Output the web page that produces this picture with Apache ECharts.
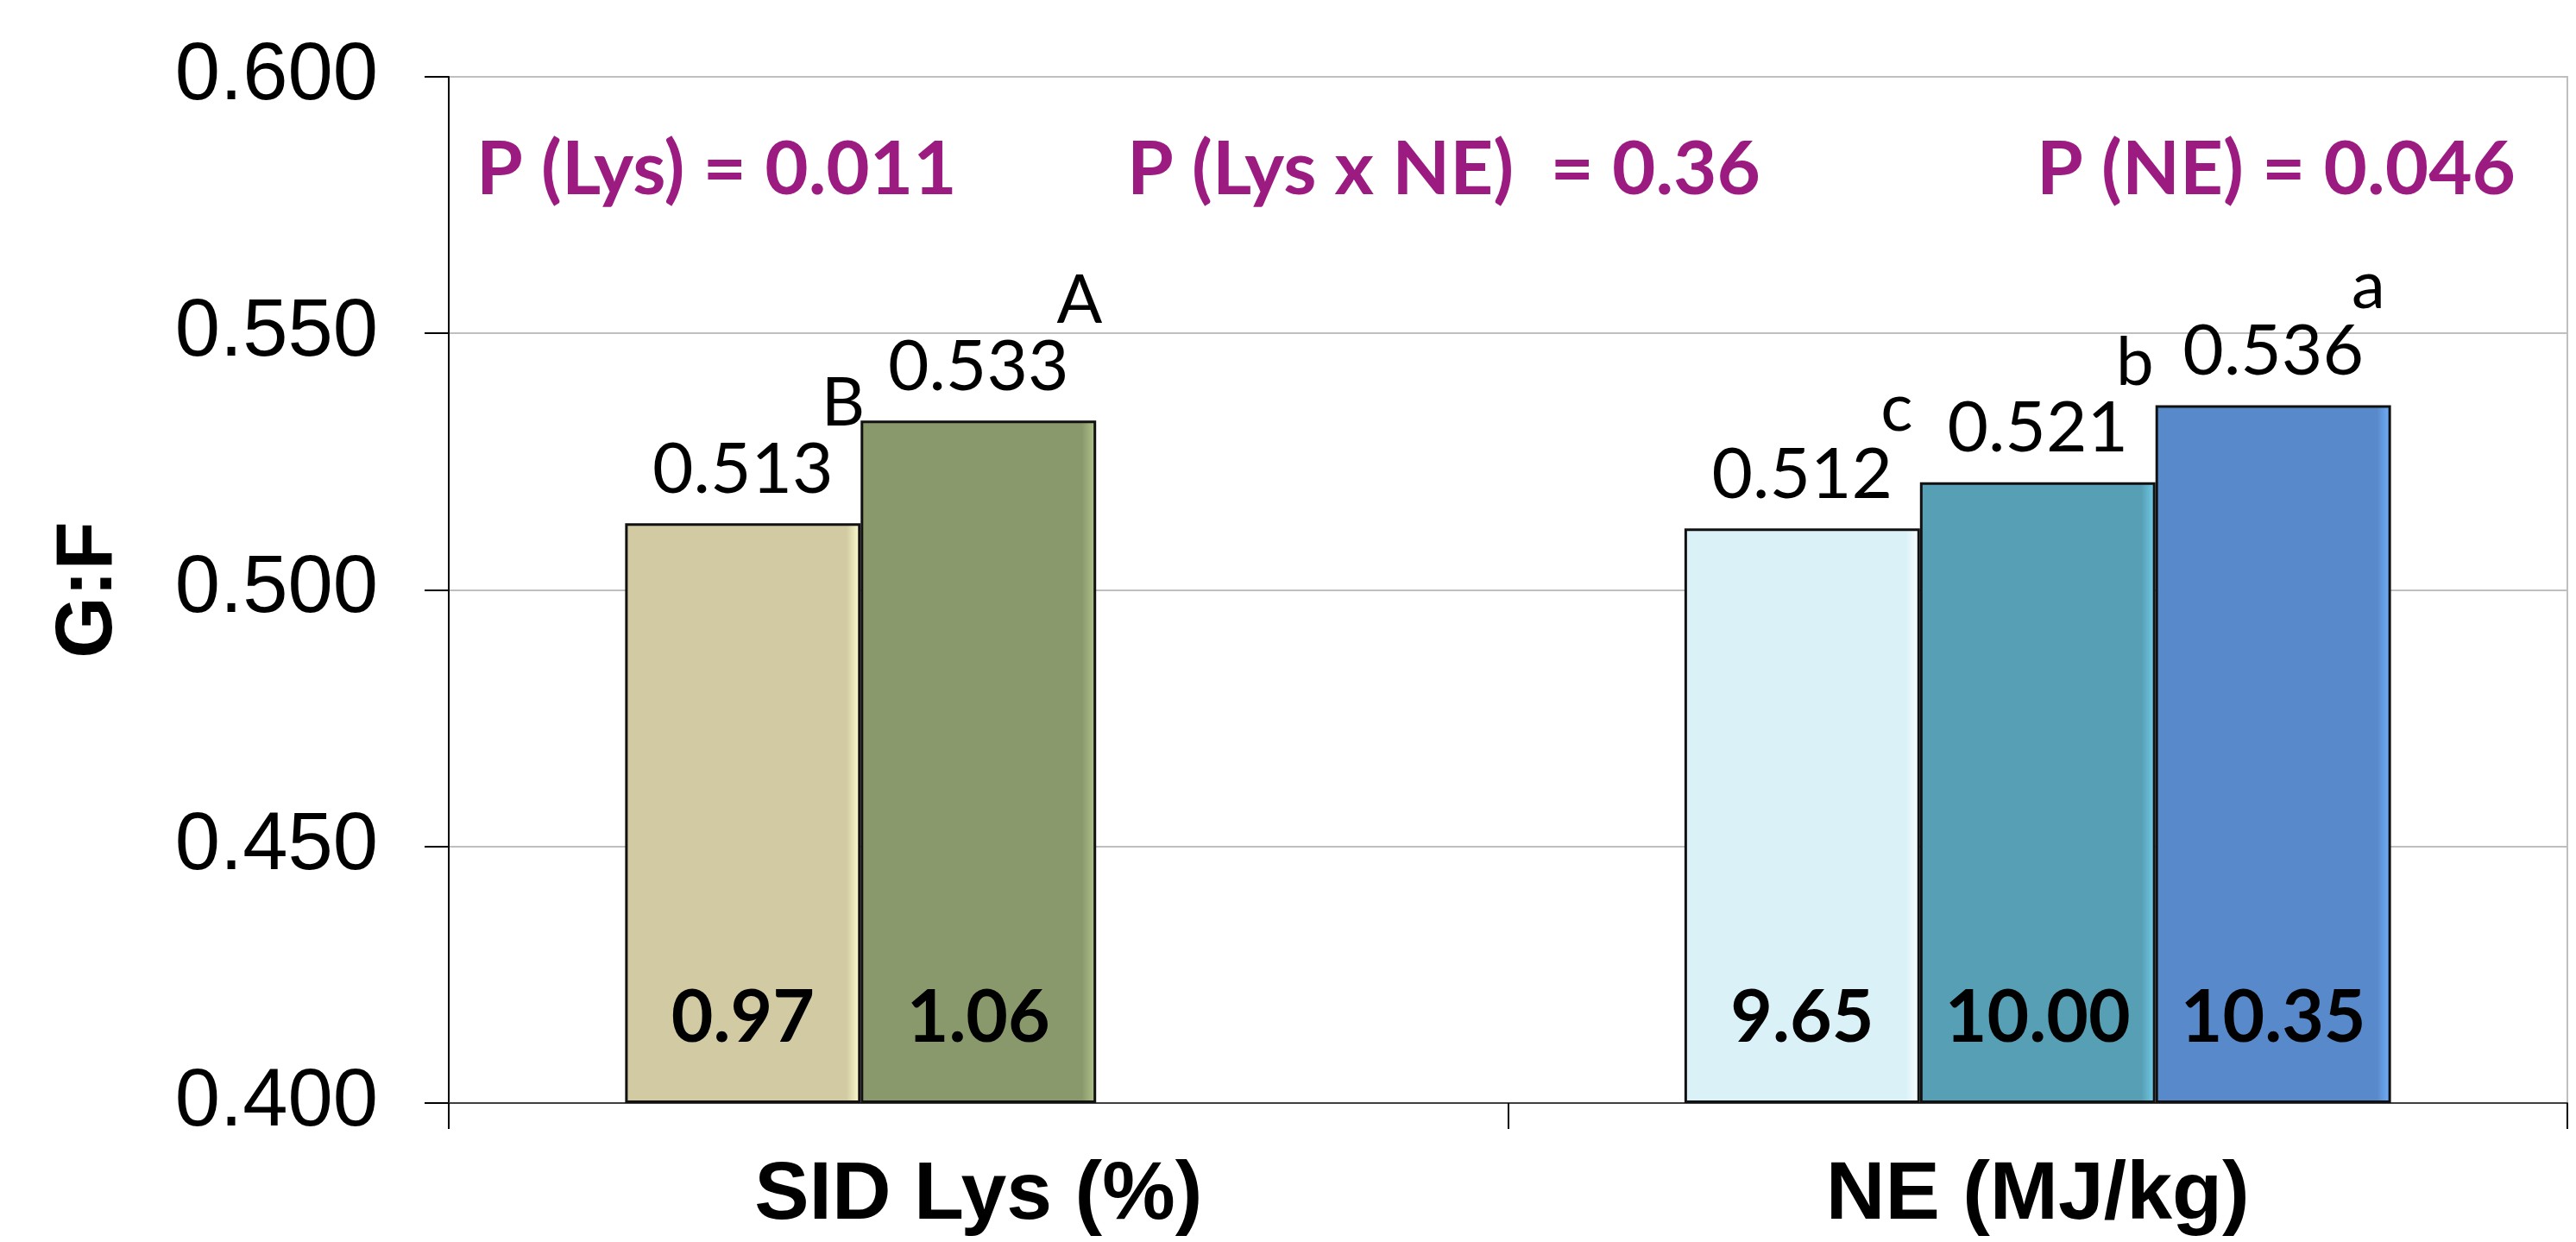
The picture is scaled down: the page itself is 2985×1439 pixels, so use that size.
<!DOCTYPE html>
<html>
<head>
<meta charset="utf-8">
<title>G:F</title>
<script src="https://cdn.jsdelivr.net/npm/echarts@6/dist/echarts.min.js"></script>
<style>
html, body { margin: 0; padding: 0; background: #fff; }
#main { width: 2985px; height: 1439px; }
</style>
</head>
<body>
<div id="main"></div>
<script>
// data
var categories = ['SID Lys (%)', 'NE (MJ/kg)'];
var lysLevels = ['0.97', '1.06'];
var lysGF = [0.513, 0.533];
var lysLetters = ['B', 'A'];
var neLevels = ['9.65', '10.00', '10.35'];
var neGF = [0.512, 0.521, 0.536];
var neLetters = ['c', 'b', 'a'];
var pTexts = ['P (Lys) = 0.011', 'P (Lys x NE)  = 0.36', 'P (NE) = 0.046'];

// styles
var lysColors = ['#D1CAA2', '#8A996C'];
var neColors = ['#DAF1F8', '#579FB5', '#5889CA'];
var pTextX = [552, 1306, 2360];

(function(){

var chart = echarts.init(document.getElementById('main'));

function bevel(c) {
    // flat fill with a darker strip on the right, like the excel bevel
    return new echarts.graphic.LinearGradient(0, 0, 1, 0, [
        {offset: 0, color: c},
        {offset: 0.94, color: c},
        {offset: 1, color: echarts.color.lift(c, -0.3)}
    ]);
}

var groups = [
    {gf: lysGF, level: lysLevels, letter: lysLetters, color: lysColors},
    {gf: neGF, level: neLevels, letter: neLetters, color: neColors}
];

var series = [];
for (var s = 0; s < 3; s++) {
    var bars = [], caps = [];
    groups.forEach(function(g){
        if (s < g.gf.length) {
            bars.push({value: g.gf[s], level: g.level[s], itemStyle: {color: bevel(g.color[s])}});
            caps.push({value: 0, gf: g.gf[s], letter: g.letter[s]});
        } else {
            bars.push('-');
            caps.push('-');
        }
    });
    // visible bar, level printed at its foot
    series.push({
        type: 'bar',
        stack: 'slot' + s,
        stackStrategy: 'all',
        data: bars,
        itemStyle: {borderColor: '#111', borderWidth: 3},
        label: {
            show: true,
            position: 'insideBottom',
            distance: 56,
            formatter: function(p){ return p.data.level; },
            fontFamily: 'Lato',
            fontWeight: 'bold',
            fontSize: 84,
            color: '#000'
        }
    });
    // zero height cap carrying value + letter
    series.push({
        type: 'bar',
        stack: 'slot' + s,
        stackStrategy: 'all',
        silent: true,
        data: caps,
        itemStyle: {color: 'transparent', borderWidth: 0},
        label: {
            show: true,
            position: 'top',
            distance: 24,
            formatter: function(p){
                var v = p.data.gf.toFixed(3), l = p.data.letter;
                return '{hl|' + l + '}{hn|' + v + '}{l|' + l + '}\n' +
                       '{hl|' + l + '}{n|' + v + '}{hl|' + l + '}';
            },
            rich: {
                n: {fontFamily: 'Lato', fontSize: 82, color: '#000', lineHeight: 76},
                hn: {fontFamily: 'Lato', fontSize: 82, color: 'transparent', lineHeight: 76},
                l: {fontFamily: 'Lato', fontSize: 78, color: '#000', lineHeight: 76, padding: [0, 28, 0, 0]},
                hl: {fontFamily: 'Lato', fontSize: 78, color: 'transparent', lineHeight: 76}
            }
        }
    });
}

option = {
    backgroundColor: '#fff',
    animation: false,
    grid: {
        left: 520,
        right: 10,
        top: 89,
        bottom: 161,
        show: true,
        borderColor: '#BFBFBF',
        borderWidth: 2,
        containLabel: false,
        outerBoundsMode: 'none'
    },
    xAxis: {
        type: 'category',
        data: categories,
        axisLine: {lineStyle: {color: '#404040', width: 2}},
        axisTick: {show: true, length: 30, lineStyle: {color: '#000', width: 2}},
        axisLabel: {
            margin: 60,
            fontFamily: 'Liberation Sans',
            fontWeight: 'bold',
            fontSize: 95,
            color: '#000'
        }
    },
    yAxis: {
        type: 'value',
        min: 0.4,
        max: 0.6,
        interval: 0.05,
        startValue: 0.4,
        name: 'G:F',
        nameLocation: 'middle',
        nameGap: 370,
        nameTextStyle: {
            fontFamily: 'Liberation Sans',
            fontWeight: 'bold',
            fontSize: 92,
            color: '#000'
        },
        axisLine: {show: true, lineStyle: {color: '#000', width: 2}},
        axisTick: {show: true, length: 28, lineStyle: {color: '#000', width: 2}},
        axisLabel: {
            margin: 82,
            formatter: function(v){ return v.toFixed(3); },
            fontFamily: 'Liberation Sans',
            fontSize: 94,
            color: '#000'
        },
        splitLine: {lineStyle: {color: '#BFBFBF', width: 2}}
    },
    barGap: '0%',
    barCategoryGap: '33.3%',
    series: series,
    graphic: pTexts.map(function(t, i){
        return {
            type: 'text',
            x: pTextX[i],
            y: 197,
            style: {
                text: t,
                fontFamily: 'Lato',
                fontWeight: 'bold',
                fontSize: 87,
                fill: '#9B1B80',
                verticalAlign: 'middle'
            }
        };
    })
};

chart.setOption(option);
})();
</script>
</body>
</html>
